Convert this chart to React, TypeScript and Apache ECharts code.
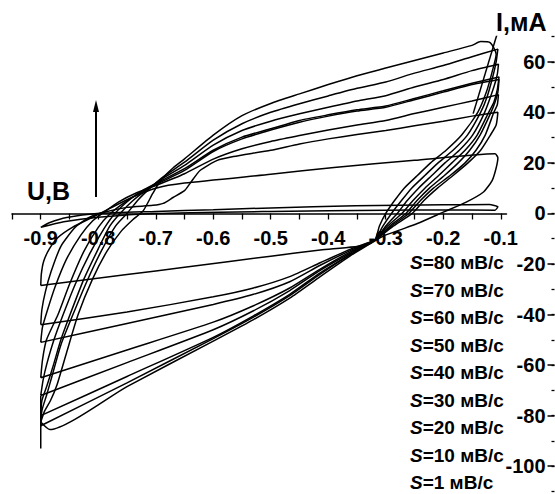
import React, { useEffect, useRef } from "react";
import * as echarts from "echarts";

// axis ticks / labels
const xTickValues = [-0.95, -0.9, -0.85, -0.8, -0.75, -0.7, -0.65, -0.6, -0.55, -0.5, -0.45, -0.4, -0.35, -0.3, -0.25, -0.2, -0.15, -0.1];
const xLabelValues = [-0.9, -0.8, -0.7, -0.6, -0.5, -0.4, -0.3, -0.2, -0.1];
const yTickValues = [-110, -100, -90, -80, -70, -60, -50, -40, -30, -20, -10, 0, 10, 20, 30, 40, 50, 60, 70];
const yLabelValues = [-100, -80, -60, -40, -20, 0, 20, 40, 60];

// scan-rate legend
const scanRates = ["80", "70", "60", "50", "40", "30", "20", "10", "1"];

// voltammograms: [U, I]
const loop80: [number, number][] = [
  [-0.9, -82.5], [-0.893, -78], [-0.883, -74], [-0.872, -68], [-0.855, -55], [-0.835, -40], [-0.81, -26], [-0.785, -15], [-0.76, -7], [-0.74, -2.5], [-0.722, 1], [-0.705, 8], [-0.69, 13.5], [-0.67, 18], [-0.65, 21.6], [-0.6, 31], [-0.55, 38.7], [-0.5, 43.5], [-0.45, 47.3], [-0.4, 51], [-0.35, 54.5], [-0.3, 57.5], [-0.25, 60.5], [-0.2, 63.5], [-0.15, 66.5], [-0.135, 68], [-0.118, 67.5], [-0.108, 63],
  [-0.115, 56], [-0.125, 48], [-0.14, 40], [-0.168, 31], [-0.195, 25], [-0.222, 20], [-0.245, 15], [-0.268, 10], [-0.285, 5], [-0.3, 0], [-0.311, -5], [-0.319, -10.5],
  [-0.36, -16.5], [-0.414, -25], [-0.467, -33.5], [-0.53, -42], [-0.6, -50.5], [-0.75, -68.5], [-0.884, -85.5], [-0.9, -82.5],
];
const loop70: [number, number][] = [
  [-0.9, -84], [-0.898, -78], [-0.89, -72], [-0.88, -64], [-0.865, -52], [-0.844, -40], [-0.82, -27], [-0.795, -15], [-0.77, -5], [-0.75, 0], [-0.73, 5.5], [-0.71, 10], [-0.69, 14], [-0.65, 20.3], [-0.6, 29], [-0.55, 35.5], [-0.5, 40], [-0.45, 43.4], [-0.4, 46.5], [-0.35, 49.5], [-0.3, 52], [-0.25, 55.5], [-0.2, 58.5], [-0.15, 62], [-0.105, 65],
  [-0.108, 60], [-0.114, 54], [-0.124, 46], [-0.135, 40], [-0.158, 31], [-0.183, 25], [-0.209, 20], [-0.232, 15], [-0.255, 10], [-0.273, 5], [-0.29, 0], [-0.305, -5], [-0.319, -10.5],
  [-0.36, -16], [-0.414, -24], [-0.467, -32.5], [-0.53, -41], [-0.6, -49.5], [-0.75, -67], [-0.9, -84],
];
const loop60: [number, number][] = [
  [-0.9, -80], [-0.898, -74], [-0.889, -68], [-0.878, -60], [-0.865, -50], [-0.849, -40], [-0.825, -26], [-0.8, -14], [-0.78, -5], [-0.762, 0], [-0.74, 5], [-0.715, 9.5], [-0.69, 13.5], [-0.65, 19], [-0.6, 27], [-0.55, 32.8], [-0.5, 36.5], [-0.45, 39.4], [-0.4, 42], [-0.35, 44.5], [-0.3, 46.6], [-0.25, 50], [-0.2, 53], [-0.15, 56.5], [-0.104, 59],
  [-0.106, 55], [-0.112, 50], [-0.128, 40], [-0.149, 31], [-0.172, 25], [-0.197, 20], [-0.22, 15], [-0.243, 10], [-0.263, 5], [-0.28, 0], [-0.3, -5], [-0.319, -10.5],
  [-0.36, -16], [-0.414, -23.5], [-0.467, -32], [-0.53, -40.5], [-0.6, -49], [-0.75, -64.5], [-0.9, -80],
];
const loop50: [number, number][] = [
  [-0.9, -72], [-0.896, -66], [-0.89, -60], [-0.877, -50], [-0.861, -40], [-0.84, -28], [-0.815, -16], [-0.79, -6], [-0.771, 0], [-0.745, 5.5], [-0.72, 9.5], [-0.69, 13], [-0.65, 17.7], [-0.6, 25], [-0.55, 30.2], [-0.5, 33.5], [-0.45, 36.8], [-0.4, 39], [-0.35, 41], [-0.3, 42.5], [-0.25, 45.5], [-0.2, 48.5], [-0.15, 51.5], [-0.103, 54],
  [-0.106, 49], [-0.112, 44], [-0.121, 40], [-0.141, 31], [-0.162, 25], [-0.185, 20], [-0.208, 15], [-0.232, 10], [-0.253, 5], [-0.272, 0], [-0.297, -5], [-0.319, -10.5],
  [-0.36, -15.5], [-0.414, -22.5], [-0.467, -30.5], [-0.53, -38.5], [-0.6, -46], [-0.75, -59], [-0.9, -72],
];
const loop40: [number, number][] = [
  [-0.9, -65], [-0.897, -58], [-0.89, -50], [-0.87, -40], [-0.85, -28], [-0.825, -15], [-0.8, -5.5], [-0.779, 0], [-0.75, 5], [-0.72, 9], [-0.69, 12.5], [-0.65, 17], [-0.6, 24.5], [-0.55, 29.5], [-0.5, 33], [-0.45, 36.1], [-0.4, 38.5], [-0.35, 40.5], [-0.3, 42], [-0.25, 45], [-0.2, 48], [-0.15, 51], [-0.103, 53],
  [-0.105, 48], [-0.11, 44], [-0.117, 40], [-0.136, 31], [-0.154, 25], [-0.174, 20], [-0.198, 15], [-0.224, 10], [-0.246, 5], [-0.265, 0], [-0.293, -5], [-0.319, -10.5],
  [-0.36, -15], [-0.414, -22], [-0.467, -29.5], [-0.53, -36.5], [-0.6, -43], [-0.75, -54], [-0.9, -65],
];
const loop30: [number, number][] = [
  [-0.9, -51], [-0.897, -45], [-0.888, -38], [-0.875, -29], [-0.855, -18], [-0.83, -8.5], [-0.81, -3], [-0.793, 0], [-0.765, 4.5], [-0.735, 8], [-0.7, 11], [-0.65, 15.7], [-0.6, 21.5], [-0.55, 25.6], [-0.5, 28.5], [-0.45, 30.8], [-0.4, 33], [-0.35, 35], [-0.3, 36.8], [-0.25, 39.5], [-0.2, 42], [-0.15, 44.5], [-0.104, 47],
  [-0.106, 43], [-0.112, 40], [-0.127, 31], [-0.143, 25], [-0.162, 20], [-0.188, 15], [-0.217, 10], [-0.24, 5], [-0.26, 0], [-0.29, -5], [-0.319, -10.5],
  [-0.36, -14.5], [-0.414, -20.5], [-0.467, -27], [-0.53, -32], [-0.6, -36], [-0.75, -43.5], [-0.9, -51],
];
const loop20: [number, number][] = [
  [-0.9, -44], [-0.898, -38], [-0.892, -31], [-0.882, -23], [-0.865, -13], [-0.84, -5.5], [-0.815, -1.5], [-0.79, 0.5], [-0.75, 2.4], [-0.705, 3.2], [-0.687, 4], [-0.67, 6.3], [-0.65, 9], [-0.64, 12], [-0.623, 17], [-0.593, 21], [-0.565, 22.5], [-0.5, 25], [-0.45, 27.5], [-0.4, 29.5], [-0.35, 31.2], [-0.3, 32.8], [-0.25, 34.7], [-0.2, 36.5], [-0.15, 38.5], [-0.105, 40],
  [-0.108, 35], [-0.118, 31], [-0.135, 25], [-0.157, 20], [-0.183, 15], [-0.21, 10], [-0.234, 5], [-0.254, 0], [-0.287, -5], [-0.319, -10.5],
  [-0.36, -14], [-0.414, -19.5], [-0.467, -25], [-0.53, -29.5], [-0.6, -33], [-0.75, -39], [-0.9, -44],
];
const loop10: [number, number][] = [
  [-0.9, -28.5], [-0.899, -24], [-0.895, -19], [-0.885, -14], [-0.87, -9.5], [-0.845, -5.5], [-0.81, -1.5], [-0.78, 2], [-0.74, 6.5], [-0.7, 10], [-0.65, 12], [-0.5, 15.5], [-0.39, 18.2], [-0.25, 21], [-0.11, 23.6], [-0.105, 22],
  [-0.108, 18], [-0.115, 13], [-0.13, 8.5], [-0.16, 4.5], [-0.2, 0.5], [-0.245, -4], [-0.275, -6.5], [-0.305, -9], [-0.333, -12.5], [-0.414, -14.5], [-0.5, -16.9], [-0.65, -21.3], [-0.75, -24.2], [-0.9, -28.5],
];
const loop1: [number, number][] = [
  [-0.9, -5.5], [-0.884, -3.6], [-0.855, -1.6], [-0.802, 0], [-0.7, 0.8], [-0.6, 1.5], [-0.5, 2.2], [-0.353, 3], [-0.2, 3.4], [-0.12, 3.5], [-0.105, 2.6],
  [-0.11, 1.3], [-0.2, 1.4], [-0.3, 1.3], [-0.5, 0.8], [-0.7, 0], [-0.8, -1.5], [-0.86, -3.3], [-0.9, -5.5],
];
const startStroke: [number, number][] = [[-0.105, 72], [-0.148, 39.5]];
const switchStroke: [number, number][] = [[-0.9, -93], [-0.9, -72]];

const loops = [loop80, loop70, loop60, loop50, loop40, loop30, loop20, loop10, loop1, startStroke, switchStroke];

const FONT = "'Liberation Sans', Arial, sans-serif";

export default function App() {
  const ref = useRef<HTMLDivElement>(null);
  useEffect(() => {
    if (!ref.current) return;
    const chart = echarts.init(ref.current, undefined, { renderer: "svg" });
    const legend = scanRates.map((s, i) => ({
      type: "text",
      left: 410,
      top: 253 + i * 27.55,
      style: {
        text: `{i|S}{n|=${s} мВ/с}`,
        rich: {
          i: { fontFamily: FONT, fontSize: 19, lineHeight: 19, fontWeight: 700, fontStyle: "italic", fill: "#000" },
          n: { fontFamily: FONT, fontSize: 19, lineHeight: 19, fontWeight: 700, fill: "#000" },
        },
      },
    }));
    const gx = 12, gw = 494.5, gTop = 36.5, gH = 455, zeroY = 213.5;
    chart.setOption({
      animation: false,
      backgroundColor: "#fff",
      grid: [
        { left: gx, top: gTop, width: gw, height: gH, containLabel: false, outerBoundsMode: "none" },
        { left: gx, top: gTop, width: gw, height: zeroY - gTop, containLabel: false, outerBoundsMode: "none" },
      ],
      xAxis: [
        { type: "value", gridIndex: 0, min: -0.95, max: -0.09, show: false },
        {
          type: "value",
          gridIndex: 1,
          min: -0.95,
          max: -0.09,
          position: "bottom",
          axisLine: { onZero: false, lineStyle: { color: "#000", width: 1.5 } },
          axisTick: { show: true, customValues: xTickValues, length: 6, lineStyle: { color: "#000", width: 1.3 } },
          axisLabel: {
            customValues: xLabelValues,
            margin: 14,
            color: "#000",
            fontFamily: FONT,
            fontWeight: 700,
            fontSize: 20,
            formatter: (v: number) => v.toFixed(1),
          },
          splitLine: { show: false },
        },
      ],
      yAxis: [
        {
          type: "value",
          gridIndex: 0,
          min: -110,
          max: 70,
          position: "right",
          offset: 48,
          axisLine: { show: false, onZero: false },
          axisTick: { show: true, inside: true, customValues: yTickValues, length: 3, lineStyle: { color: "#000", width: 1.3 } },
          axisLabel: { show: false },
          splitLine: { show: false },
        },
        {
          type: "value",
          gridIndex: 0,
          min: -110,
          max: 70,
          position: "right",
          offset: 48,
          axisLine: { show: false, onZero: false },
          axisTick: { show: true, inside: true, customValues: yLabelValues, length: 7, lineStyle: { color: "#000", width: 1.5 } },
          axisLabel: {
            inside: true,
            customValues: yLabelValues,
            margin: 9,
            color: "#000",
            fontFamily: FONT,
            fontWeight: 700,
            fontSize: 20,
          },
          splitLine: { show: false },
        },
        { type: "value", gridIndex: 1, min: 0, max: 70, show: false },
      ],
      series: loops.map((d) => ({
        type: "line",
        data: d,
        showSymbol: false,
        smooth: 0.2,
        xAxisIndex: 0,
        yAxisIndex: 0,
        lineStyle: { color: "#000", width: 1.5 },
        silent: true,
      })),
      graphic: [
        { type: "text", left: 496, top: 9, style: { text: "I,мА", fontFamily: FONT, fontSize: 25, fontWeight: 700, fill: "#000" } },
        { type: "text", left: 27, top: 178, style: { text: "U,В", fontFamily: FONT, fontSize: 25, fontWeight: 700, fill: "#000" } },
        { type: "line", shape: { x1: 96, y1: 110, x2: 96, y2: 197 }, style: { stroke: "#000", lineWidth: 2 } },
        { type: "polygon", shape: { points: [[96, 100], [93, 112], [99, 112]] }, style: { fill: "#000" } },
        ...legend,
      ],
    });
    return () => chart.dispose();
  }, []);
  return <div ref={ref} style={{ position: "absolute", left: 0, top: 0, width: 555, height: 494 }} />;
}
